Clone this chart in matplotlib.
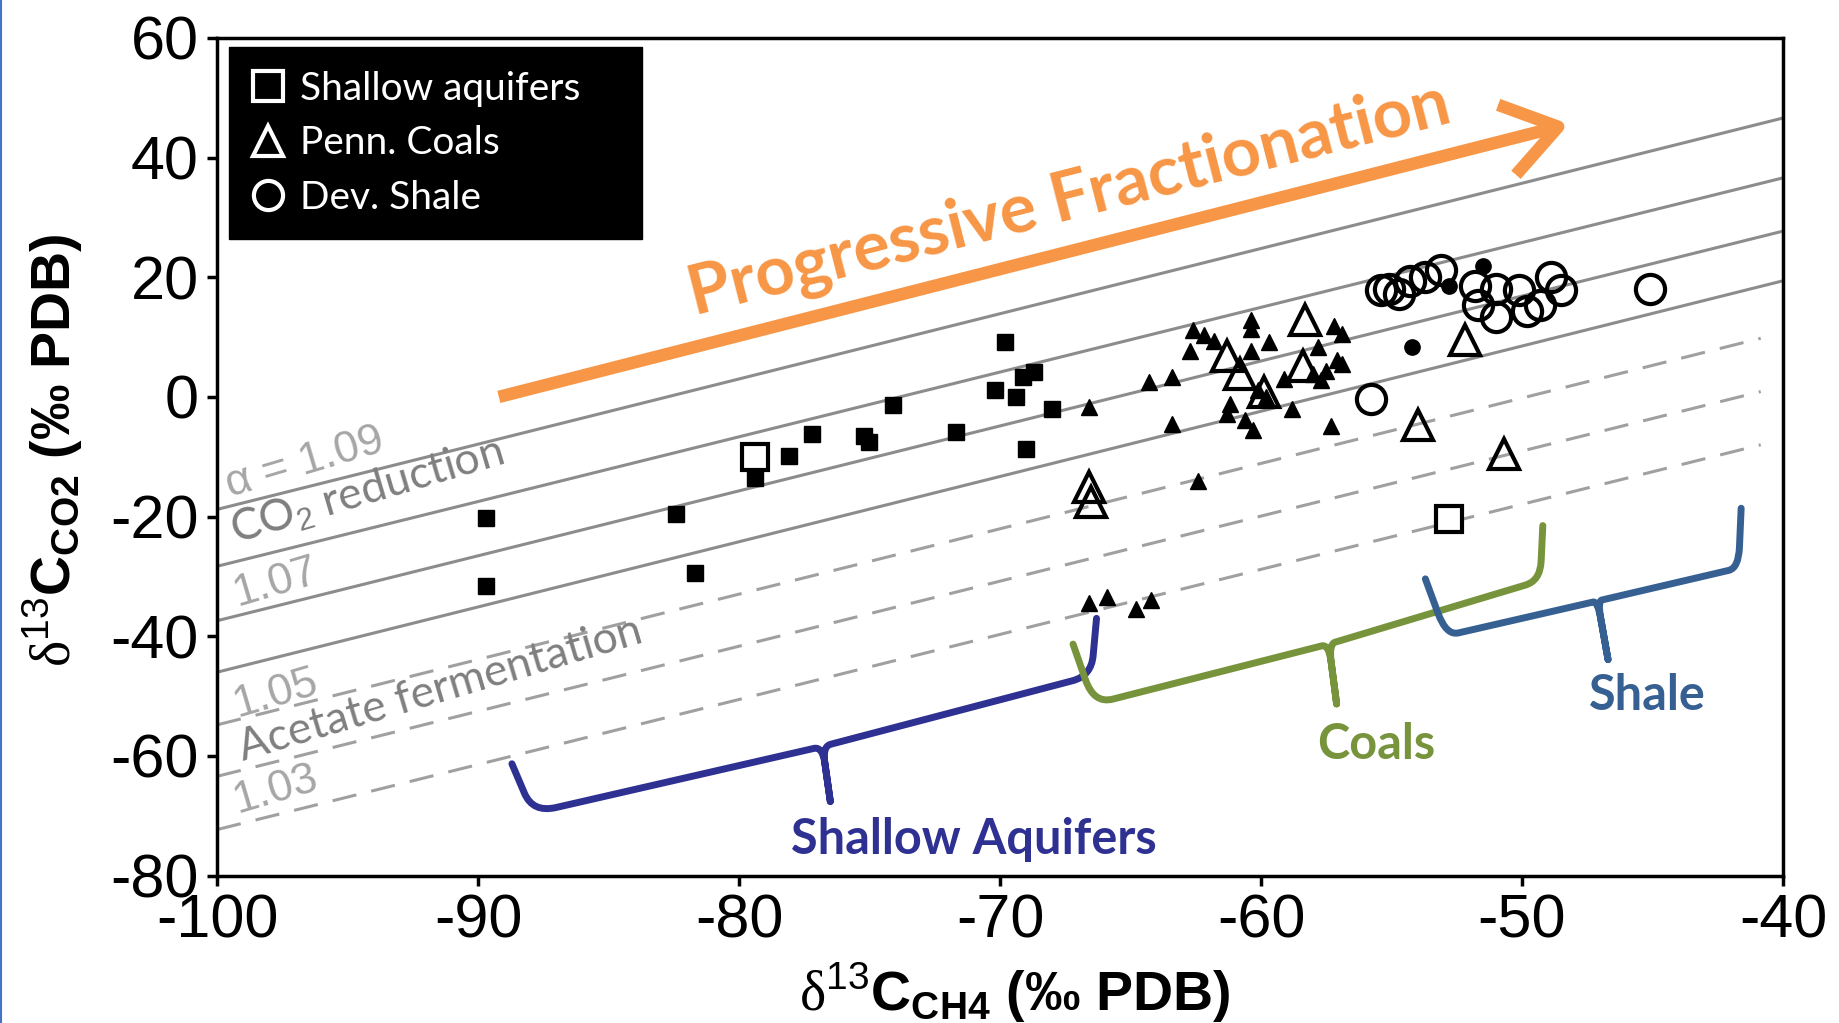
import matplotlib
matplotlib.use('Agg')
import matplotlib.pyplot as plt
from matplotlib.lines import Line2D
from matplotlib.patches import FancyArrowPatch, PathPatch, ArrowStyle
from matplotlib.path import Path
import numpy as np

# --- data (delta13C CH4, delta13C CO2) ---
aq_fill_x = [-89.7, -89.7, -82.4, -81.7, -79.4, -78.1, -77.2, -75.2, -75.0, -74.1,
             -71.7, -70.2, -69.8, -69.4, -69.1, -68.7, -69.0, -68.0]
aq_fill_y = [-20.3, -31.6, -19.5, -29.4, -13.6, -9.9, -6.2, -6.5, -7.6, -1.4,
             -5.9, 1.1, 9.1, 0.0, 3.3, 4.1, -8.7, -2.1]
aq_open_x = [-79.4, -52.8]
aq_open_y = [-10.0, -20.4]

coal_fill_x = [-66.6, -64.3, -63.4, -63.4, -62.6, -62.7, -62.2, -61.8, -60.4, -60.4,
               -59.7, -60.4, -61.2, -61.3, -60.6, -60.3, -60.1, -59.8, -59.1, -58.8,
               -58.0, -57.7, -57.5, -57.1, -56.9, -57.2, -56.9, -57.8, -57.3, -62.4,
               -66.6, -65.9, -64.8, -64.2]
coal_fill_y = [-1.7, 2.5, 3.4, -4.5, 11.1, 7.6, 10.3, 9.4, 12.8, 11.4,
               9.1, 7.7, -1.2, -2.8, -3.9, -5.6, 1.1, 0.0, 3.0, -2.0,
               3.9, 2.8, 4.4, 6.1, 5.5, 11.9, 10.5, 8.3, -4.8, -14.0,
               -34.5, -33.5, -35.5, -34.0]
coal_open_x = [-66.6, -66.5, -61.3, -60.8, -59.9, -58.3, -58.4, -52.2, -54.0, -50.7]
coal_open_y = [-15.0, -17.5, 6.9, 3.9, 0.8, 12.8, 5.2, 9.5, -4.7, -9.6]

shale_open_x = [-55.4, -55.1, -54.7, -54.3, -53.7, -53.1, -51.8, -51.7, -51.0, -51.0,
                -50.1, -49.8, -48.9, -48.5, -49.3, -45.1, -55.8]
shale_open_y = [17.9, 18.0, 17.2, 19.4, 20.0, 21.2, 18.6, 15.3, 18.0, 13.3,
                17.8, 14.4, 20.0, 17.8, 15.3, 18.0, -0.4]
shale_fill_x = [-51.5, -54.2, -52.8]
shale_fill_y = [21.9, 8.3, 18.6]

# fractionation lines: y at the left (x=-100) and right ends
solid_left = [-18.8, -28.3, -37.4, -46.0]
solid_right = [46.6, 36.6, 27.7, 19.4]
solid_x = [-100, -40]
dashed_left = [-54.8, -63.4, -72.3]
dashed_right = [9.8, 0.9, -8.0]
dashed_x = [-100, -40.85]

# bracket anchor points: left tip, left corner, middle, spike, right corner, right tip
brace_aquifer = [(-88.7, -61.3), (-87.9, -69.5), (-76.8, -58.4), (-76.5, -67.6), (-66.5, -46.6), (-66.3, -37.0)]
brace_coal = [(-67.2, -41.3), (-66.4, -51.3), (-57.4, -41.3), (-57.1, -51.3), (-49.3, -30.7), (-49.2, -21.5)]
brace_shale = [(-53.7, -30.4), (-52.9, -39.9), (-47.1, -34.1), (-46.7, -43.9), (-41.7, -28.6), (-41.6, -18.6)]

ORANGE = '#F79646'
NAVY = '#2E3192'
OLIVE = '#77933C'
STEEL = '#376092'

plt.rcParams['axes.unicode_minus'] = False
plt.rcParams['mathtext.fontset'] = 'custom'
plt.rcParams['mathtext.rm'] = 'Liberation Serif'
plt.rcParams['mathtext.sf'] = 'Liberation Sans'
plt.rcParams['mathtext.bf'] = 'Liberation Sans:bold'


def draw_brace(ax, pts, color):
    tl, cl, mid, spk, cr, tr = [np.array(p) for p in pts]
    lerp = lambda a, b, t: a + (b - a) * t
    verts = [tl, lerp(tl, cl, 0.6), cl, lerp(cl, mid, 0.08), lerp(cl, mid, 0.97),
             mid, lerp(mid, spk, 0.3), spk,
             lerp(mid, spk, 0.3), mid, lerp(mid, cr, 0.03), lerp(mid, cr, 0.93),
             cr, lerp(cr, tr, 0.35), tr]
    codes = [Path.MOVETO, Path.LINETO, Path.CURVE3, Path.CURVE3, Path.LINETO,
             Path.CURVE3, Path.CURVE3, Path.LINETO,
             Path.LINETO, Path.CURVE3, Path.CURVE3, Path.LINETO,
             Path.CURVE3, Path.CURVE3, Path.LINETO]
    ax.add_patch(PathPatch(Path(verts, codes), fill=False, edgecolor=color, lw=5,
                           capstyle='round', joinstyle='round', zorder=4))


fig = plt.figure(figsize=(18.39, 10.23), dpi=100)
ax = fig.add_axes([0.118, 0.144, 0.8515, 0.819])

for yl, yr in zip(solid_left, solid_right):
    ax.plot(solid_x, [yl, yr], color='#8c8c8c', lw=2.2, zorder=1)
for yl, yr in zip(dashed_left, dashed_right):
    ax.plot(dashed_x, [yl, yr], color='#a0a0a0', lw=2.2, ls=(0, (8, 5)), zorder=1)

ax.plot(aq_fill_x, aq_fill_y, 's', color='black', ms=11, ls='none', zorder=3)
ax.plot(coal_fill_x, coal_fill_y, '^', color='black', ms=12, ls='none', zorder=3)
ax.plot(shale_fill_x, shale_fill_y, 'o', color='black', ms=11, ls='none', zorder=3)
ax.plot(aq_open_x, aq_open_y, 's', mfc='white', mec='black', mew=3, ms=19, ls='none', zorder=3)
ax.plot(coal_open_x, coal_open_y, '^', mfc='none', mec='black', mew=3, ms=21, ls='none', zorder=3)
ax.plot(shale_open_x, shale_open_y, 'o', mfc='none', mec='black', mew=3, ms=21, ls='none', zorder=3)

ax.set_xlim(-100, -40)
ax.set_ylim(-80, 60)
ax.set_xticks(np.arange(-100, -39, 10))
ax.set_yticks(np.arange(-80, 61, 20))
ax.tick_params(labelsize=44, length=7, width=2.5, pad=6, direction='out')
for lab in ax.get_xticklabels() + ax.get_yticklabels():
    lab.set_family('Liberation Sans')
for sp in ax.spines.values():
    sp.set_linewidth(2.5)

ax.set_xlabel(r'$\mathrm{\delta}^{\mathsf{13}}\mathbf{C}_{\mathbf{CH4}}$ (‰ PDB)',
              fontsize=40, fontweight='bold', family='Liberation Sans')
ax.set_ylabel(r'$\mathrm{\delta}^{\mathsf{13}}\mathbf{C}_{\mathbf{CO2}}$ (‰ PDB)',
              fontsize=40, fontweight='bold', family='Liberation Sans')
ax.xaxis.set_label_coords(0.509, -0.14)
ax.xaxis.label.set_va('center')
ax.yaxis.set_label_coords(-0.105, 0.508)
ax.yaxis.label.set_va('center')

# fractionation labels
gray_lt = '#a6a6a6'
gray_dk = '#7f7f7f'
kw = dict(rotation=16.5, rotation_mode='anchor', ha='left', va='baseline', zorder=2)
ax.text(-99.5, -16.7, 'α = 1.09', color=gray_lt, fontsize=32, family='Liberation Sans', **kw)
ax.text(-99.3, -24.6, r'CO$_\mathsf{2}$ reduction', color=gray_dk, fontsize=32, family='Lato', **kw)
ax.text(-99.2, -34.9, '1.07', color=gray_lt, fontsize=32, family='Liberation Sans', **kw)
ax.text(-99.2, -53.5, '1.05', color=gray_lt, fontsize=32, family='Liberation Sans', **kw)
ax.text(-99.0, -60.9, 'Acetate fermentation', color=gray_dk, fontsize=32, family='Lato', **kw)
ax.text(-99.2, -69.6, '1.03', color=gray_lt, fontsize=32, family='Liberation Sans', **kw)

# progressive fractionation arrow
arrow = FancyArrowPatch((-89.2, 0.0), (-48.2, 45.6), mutation_scale=1,
                        arrowstyle=ArrowStyle('->', head_length=38, head_width=26),
                        color=ORANGE, lw=9, shrinkA=0, shrinkB=0, capstyle='butt', zorder=5)
ax.add_patch(arrow)
ax.text(-81.7, 13.6, 'Progressive Fractionation', color=ORANGE, fontsize=49.5,
        fontweight='bold', family='Lato', rotation=14.3, rotation_mode='anchor',
        ha='left', va='baseline', zorder=5)

# brackets
draw_brace(ax, brace_aquifer, NAVY)
draw_brace(ax, brace_coal, OLIVE)
draw_brace(ax, brace_shale, STEEL)
ax.text(-71.0, -74.0, 'Shallow Aquifers', color=NAVY, fontsize=35, fontweight='bold',
        family='Lato', ha='center', va='center')
ax.text(-55.6, -58.0, 'Coals', color=OLIVE, fontsize=35, fontweight='bold',
        family='Lato', ha='center', va='center')
ax.text(-45.2, -49.9, 'Shale', color=STEEL, fontsize=35, fontweight='bold',
        family='Lato', ha='center', va='center')

# legend
handles = [Line2D([], [], marker='s', ls='none', mfc='none', mec='white', mew=3, ms=21),
           Line2D([], [], marker='^', ls='none', mfc='none', mec='white', mew=3, ms=21),
           Line2D([], [], marker='o', ls='none', mfc='none', mec='white', mew=3, ms=21)]
leg = ax.legend(handles, ['Shallow aquifers', 'Penn. Coals', 'Dev. Shale'],
                loc='upper left', bbox_to_anchor=(0.0077, 0.768, 0.2637, 0.2206),
                mode='expand', borderaxespad=0, fancybox=False, framealpha=1,
                facecolor='black', edgecolor='black', labelcolor='white',
                prop={'family': 'Lato', 'size': 28}, borderpad=0.6,
                labelspacing=0.48, handlelength=0.8, handletextpad=0.42)
leg.set_zorder(6)

# slide edge
fig.add_artist(Line2D([0.0008, 0.0008], [0, 1], color='#4472C4', lw=1.5,
                      transform=fig.transFigure))

fig.savefig('out.png', dpi=100)
